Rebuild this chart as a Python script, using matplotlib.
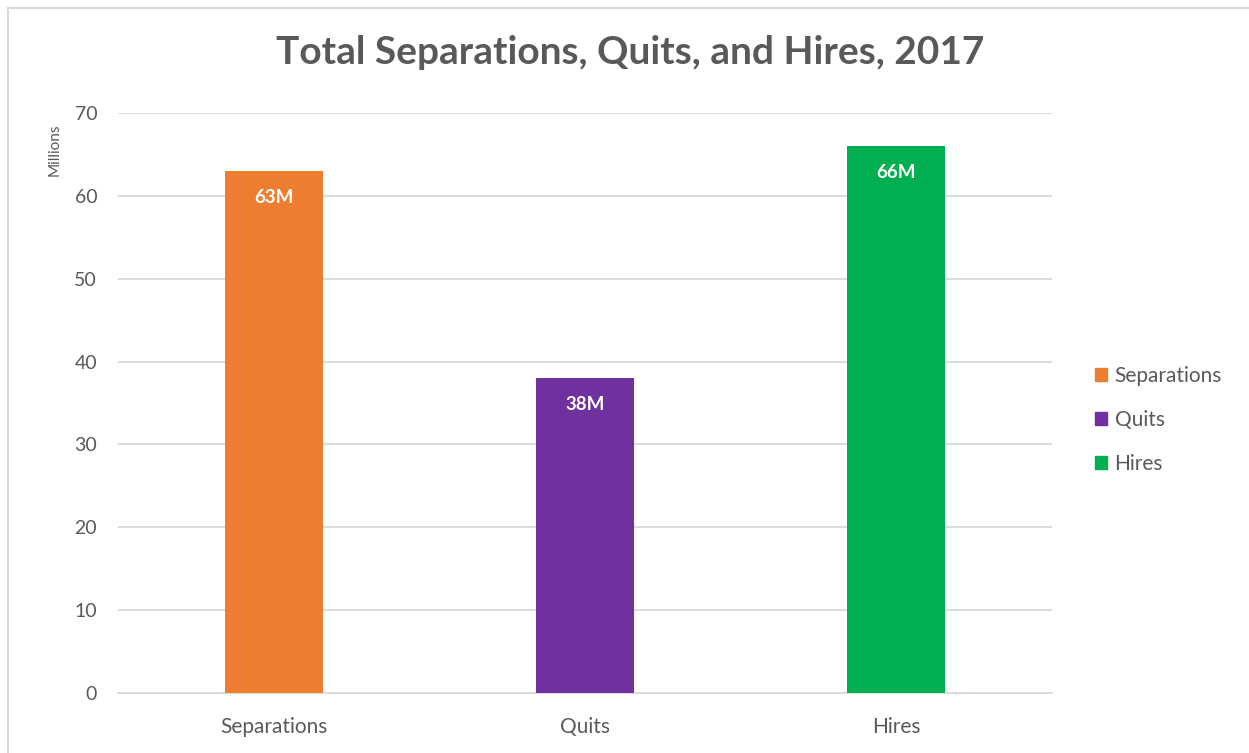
import matplotlib
matplotlib.use("Agg")
from matplotlib import pyplot as plt
from matplotlib.lines import Line2D
from matplotlib.patches import Patch

categories = ["Separations", "Quits", "Hires"]
values = [63, 38, 66]
bar_labels = ["63M", "38M", "66M"]
colors = ["#ED7D31", "#7030A0", "#00B050"]
y_ticks = [0, 10, 20, 30, 40, 50, 60, 70]

TEXT = "#595959"
GRID = "#D9D9D9"

plt.rcParams["font.family"] = ["Lato", "DejaVu Sans"]

W, H = 1249, 753
fig = plt.figure(figsize=(W / 100, H / 100), dpi=100)
ax = fig.add_axes([118 / W, 1 - 693 / H, (1052 - 118) / W, (693 - 113) / H])

x = list(range(len(categories)))
bars = ax.bar(x, values, width=0.315, color=colors, zorder=3)

for bar, label in zip(bars, bar_labels):
    ax.annotate(
        label,
        (bar.get_x() + bar.get_width() / 2, bar.get_height()),
        xytext=(0, -19),
        textcoords="offset points",
        ha="center",
        va="center",
        color="white",
        fontsize=13.5,
        fontweight="bold",
    )

ax.set_xlim(-0.5, len(categories) - 0.5)
ax.set_ylim(0, 70)
ax.set_yticks(y_ticks)
ax.set_xticks(x)
ax.set_xticklabels(categories, fontsize=15)
ax.tick_params(axis="both", length=0, colors=TEXT)
ax.tick_params(axis="y", pad=15, labelsize=14)
ax.tick_params(axis="x", pad=17)
ax.grid(axis="y", color=GRID, linewidth=1.3, zorder=0)
for side in ["top", "right", "left"]:
    ax.spines[side].set_visible(False)
ax.spines["bottom"].set_color(GRID)
ax.spines["bottom"].set_linewidth(1.3)

fig.text(55 / W, 1 - 150 / H, "Millions", rotation=90, ha="center", va="center",
         fontsize=11, color=TEXT)

fig.text(630 / W, 1 - 52 / H, "Total Separations, Quits, and Hires, 2017",
         ha="center", va="center", fontsize=28, fontweight="bold", color=TEXT)

handles = [Patch(facecolor=c, edgecolor=c, label=cat) for c, cat in zip(colors, categories)]
fig.legend(handles=handles, loc="center left", bbox_to_anchor=(1076 / W, 1 - 420 / H),
           frameon=False, fontsize=15, labelcolor=TEXT, handlelength=0.6,
           handleheight=0.6, handletextpad=0.35, labelspacing=1.15)

# light frame around the chart area
fig.add_artist(Line2D([8 / W, 8 / W], [0, 1 - 8 / H], color=GRID, linewidth=1.5))
fig.add_artist(Line2D([8 / W, 1], [1 - 8 / H, 1 - 8 / H], color=GRID, linewidth=1.5))

fig.savefig("out.png", dpi=100)
